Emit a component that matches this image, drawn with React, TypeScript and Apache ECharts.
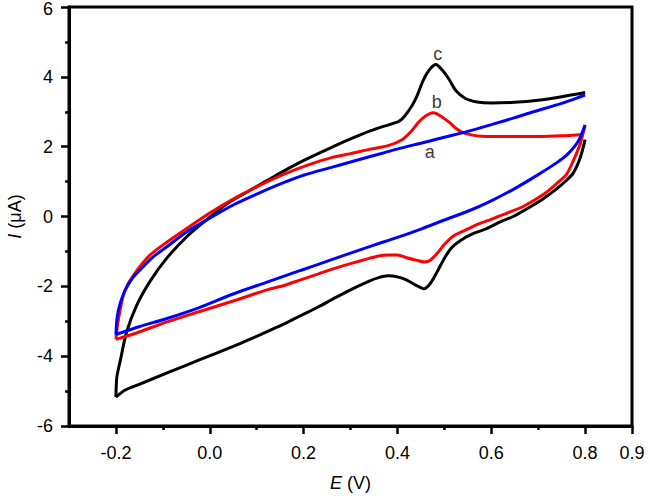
import { useEffect, useRef } from 'react';
import * as echarts from 'echarts';

// Axis ticks / labels
const xMajorTicks = [-0.2, 0, 0.2, 0.4, 0.6, 0.8, 0.9];
const xMinorTicks = [-0.1, 0.1, 0.3, 0.5, 0.7];

// Curve c (black) – forward scan (upper branch)
const cUpE = [-0.2, -0.198, -0.191, -0.177, -0.156, -0.127, -0.092, -0.049, 0.0, 0.043, 0.086, 0.121, 0.164, 0.207, 0.263, 0.3, 0.342, 0.37, 0.405, 0.425, 0.44, 0.455, 0.468, 0.482, 0.495, 0.51, 0.525, 0.545, 0.57, 0.6, 0.65, 0.7, 0.75, 0.8];
const cUpI = [-5.17, -4.6, -4.15, -3.3, -2.55, -1.85, -1.2, -0.58, -0.02, 0.42, 0.75, 1.02, 1.35, 1.65, 2.0, 2.22, 2.45, 2.58, 2.74, 3.05, 3.4, 3.9, 4.2, 4.35, 4.2, 3.93, 3.6, 3.38, 3.28, 3.25, 3.27, 3.33, 3.43, 3.55];
// Curve c (black) – reverse scan (lower branch)
const cDnE = [0.8, 0.79, 0.775, 0.76, 0.74, 0.71, 0.68, 0.647, 0.62, 0.59, 0.56, 0.533, 0.515, 0.5, 0.484, 0.47, 0.457, 0.44, 0.42, 0.4, 0.38, 0.36, 0.34, 0.3, 0.263, 0.23, 0.192, 0.16, 0.122, 0.085, 0.05, -0.021, -0.091, -0.149, -0.18, -0.2];
const cDnI = [2.2, 1.7, 1.25, 1.03, 0.8, 0.5, 0.25, 0.0, -0.15, -0.35, -0.5, -0.7, -0.9, -1.2, -1.6, -1.92, -2.07, -1.97, -1.82, -1.73, -1.7, -1.75, -1.85, -2.1, -2.36, -2.6, -2.85, -3.07, -3.3, -3.52, -3.72, -4.1, -4.48, -4.8, -4.97, -5.17];

// Curve b (red)
const bUpE = [-0.2, -0.196, -0.185, -0.175, -0.164, -0.15, -0.127, -0.09, -0.05, 0.0, 0.05, 0.1, 0.156, 0.21, 0.263, 0.3, 0.342, 0.38, 0.41, 0.43, 0.445, 0.46, 0.477, 0.495, 0.512, 0.525, 0.54, 0.56, 0.58, 0.63, 0.7, 0.75, 0.795];
const bUpI = [-3.52, -3.05, -2.3, -1.95, -1.72, -1.45, -1.1, -0.72, -0.35, 0.1, 0.5, 0.85, 1.2, 1.48, 1.7, 1.8, 1.93, 2.03, 2.2, 2.45, 2.7, 2.88, 2.97, 2.85, 2.68, 2.52, 2.4, 2.33, 2.3, 2.29, 2.29, 2.31, 2.35];
const bDnE = [0.8, 0.79, 0.775, 0.76, 0.74, 0.71, 0.67, 0.64, 0.6, 0.576, 0.54, 0.52, 0.5, 0.485, 0.47, 0.458, 0.44, 0.42, 0.4, 0.38, 0.36, 0.34, 0.3, 0.263, 0.23, 0.192, 0.16, 0.122, 0.05, -0.021, -0.091, -0.149, -0.2];
const bDnI = [2.62, 2.1, 1.6, 1.2, 0.95, 0.62, 0.3, 0.13, -0.08, -0.2, -0.42, -0.55, -0.8, -1.05, -1.25, -1.3, -1.25, -1.18, -1.1, -1.1, -1.13, -1.2, -1.35, -1.5, -1.65, -1.82, -1.97, -2.1, -2.42, -2.72, -3.02, -3.3, -3.52];

// Curve a (blue)
const aUpE = [-0.2, -0.197, -0.19, -0.18, -0.164, -0.15, -0.12, -0.09, -0.05, 0.0, 0.05, 0.1, 0.156, 0.2, 0.263, 0.3, 0.342, 0.37, 0.405, 0.45, 0.5, 0.548, 0.6, 0.65, 0.69, 0.75, 0.8];
const aUpI = [-3.38, -2.85, -2.45, -2.1, -1.75, -1.55, -1.15, -0.85, -0.45, -0.05, 0.33, 0.64, 0.96, 1.18, 1.42, 1.56, 1.72, 1.82, 1.95, 2.1, 2.27, 2.43, 2.63, 2.83, 3.0, 3.24, 3.48];
const aDnE = [0.8, 0.785, 0.76, 0.735, 0.7, 0.65, 0.6, 0.55, 0.5, 0.45, 0.4, 0.35, 0.3, 0.263, 0.23, 0.192, 0.122, 0.05, -0.021, -0.091, -0.149, -0.2];
const aDnI = [2.62, 2.15, 1.75, 1.5, 1.2, 0.8, 0.45, 0.15, -0.1, -0.36, -0.6, -0.82, -1.05, -1.22, -1.38, -1.55, -1.88, -2.22, -2.6, -2.92, -3.15, -3.38];

// Curve tags
const tagNames = ['c', 'b', 'a'];
const tagE = [0.486, 0.484, 0.469];
const tagI = [4.66, 3.27, 1.85];

const FONT = 'Liberation Sans, Arial, sans-serif';

const zip = (xs: number[], ys: number[]) => xs.map((x, i) => [x, ys[i]]);

export default function App() {
  const ref = useRef<HTMLDivElement>(null);
  useEffect(() => {
    if (!ref.current) return;
    const chart = echarts.init(ref.current, undefined, { renderer: 'svg' });
    const lineSeries = (name: string, color: string, data: number[][], z: number) => ({
      name,
      type: 'line',
      data,
      symbol: 'none',
      smooth: 0.3,
      z,
      lineStyle: { color, width: 3 },
      itemStyle: { color },
    });
    const option: any = {
      animation: false,
      backgroundColor: '#fff',
      grid: {
        left: 69,
        right: 18,
        top: 7,
        bottom: 73,
        show: true,
        borderColor: '#000',
        borderWidth: 3,
        backgroundColor: 'transparent',
        outerBoundsMode: 'none',
      },
      xAxis: [
        {
          type: 'value',
          min: -0.3,
          max: 0.9,
          position: 'bottom',
          name: '{i|E} (V)',
          nameLocation: 'middle',
          nameGap: 48,
          nameTextStyle: {
            fontSize: 18,
            color: '#000',
            fontFamily: FONT,
            rich: { i: { fontStyle: 'italic', fontSize: 18, color: '#000', fontFamily: FONT } },
          },
          axisLine: { show: true, onZero: false, lineStyle: { color: '#000', width: 3 } },
          axisTick: { show: true, customValues: xMajorTicks, length: 8, lineStyle: { color: '#000', width: 2.5 } },
          axisLabel: {
            customValues: xMajorTicks,
            formatter: (v: number) => v.toFixed(1),
            fontSize: 18,
            margin: 18,
            color: '#000',
            fontFamily: FONT,
          },
          splitLine: { show: false },
        },
        {
          type: 'value',
          min: -0.3,
          max: 0.9,
          position: 'bottom',
          axisLine: { show: false, onZero: false },
          axisTick: { show: true, customValues: xMinorTicks, length: 4, lineStyle: { color: '#000', width: 2.5 } },
          axisLabel: { show: false },
          splitLine: { show: false },
        },
      ],
      yAxis: {
        type: 'value',
        min: -6,
        max: 6,
        interval: 2,
        name: '{i|I} (μA)',
        nameLocation: 'middle',
        nameRotate: 90,
        nameGap: 45,
        nameTextStyle: {
          fontSize: 18,
          color: '#000',
          fontFamily: FONT,
          rich: { i: { fontStyle: 'italic', fontSize: 18, color: '#000', fontFamily: FONT } },
        },
        axisLine: { show: true, onZero: false, lineStyle: { color: '#000', width: 3 } },
        axisTick: { show: true, length: 8, lineStyle: { color: '#000', width: 2.5 } },
        minorTick: { show: true, splitNumber: 2, length: 4, lineStyle: { color: '#000', width: 2.5 } },
        axisLabel: {
          fontSize: 18,
          lineHeight: 14,
          margin: 16,
          color: '#000',
          fontFamily: FONT,
          formatter: (v: number) => (v === 6 ? '{t|6}' : String(v)),
          rich: { t: { fontSize: 18, lineHeight: 14, padding: [4, 0, 0, 0], color: '#000', fontFamily: FONT } },
        },
        splitLine: { show: false },
        minorSplitLine: { show: false },
      },
      series: [
        lineSeries('c-up', '#000000', zip(cUpE, cUpI), 2),
        lineSeries('c-down', '#000000', zip(cDnE, cDnI), 2),
        lineSeries('b-up', '#ff0000', zip(bUpE, bUpI), 3),
        lineSeries('b-down', '#ff0000', zip(bDnE, bDnI), 3),
        lineSeries('a-up', '#0000ff', zip(aUpE, aUpI), 4),
        lineSeries('a-down', '#0000ff', zip(aDnE, aDnI), 4),
        {
          type: 'scatter',
          z: 5,
          symbolSize: 1,
          itemStyle: { color: 'transparent' },
          data: tagNames.map((n, i) => [tagE[i], tagI[i], n]),
          label: {
            show: true,
            position: 'inside',
            formatter: (p: any) => p.value[2],
            color: '#000',
            fontSize: 18,
            fontFamily: FONT,
          },
          silent: true,
        },
      ],
    };
    chart.setOption(option);
    return () => chart.dispose();
  }, []);
  return <div ref={ref} style={{ position: 'absolute', left: 0, top: 0, width: 650, height: 499 }} />;
}
